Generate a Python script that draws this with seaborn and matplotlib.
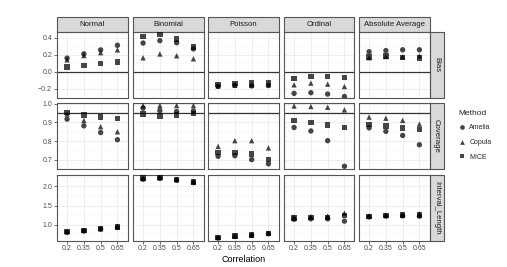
import numpy as np
import pandas as pd
import matplotlib
matplotlib.use("Agg")
import matplotlib.pyplot as plt
import seaborn as sns
from matplotlib.patches import Rectangle
from matplotlib.lines import Line2D
from matplotlib.ticker import MultipleLocator

# ---------------- data ----------------
correlations = ["0.2", "0.35", "0.5", "0.65"]
distributions = ["Normal", "Binomial", "Poisson", "Ordinal", "Absolute Average"]
measures = ["Bias", "Coverage", "Interval_Length"]
methods = ["Amelia", "Copula", "MICE"]

# each list: one row of 4 values (by correlation) per distribution
bias_amelia = [[0.16, 0.21, 0.256, 0.31], [0.336, 0.364, 0.34, 0.268],
               [-0.17, -0.16, -0.165, -0.16], [-0.252, -0.244, -0.26, -0.288],
               [0.235, 0.248, 0.257, 0.257]]
bias_copula = [[0.14, 0.19, 0.224, 0.256], [0.164, 0.208, 0.188, 0.152],
               [-0.165, -0.155, -0.155, -0.15], [-0.152, -0.132, -0.144, -0.172],
               [0.165, 0.178, 0.175, 0.185]]
bias_mice = [[0.056, 0.076, 0.10, 0.116], [0.41, 0.44, 0.384, 0.288],
             [-0.145, -0.135, -0.13, -0.125], [-0.08, -0.056, -0.056, -0.064],
             [0.175, 0.185, 0.168, 0.16]]

cov_amelia = [[0.918, 0.882, 0.846, 0.807], [0.977, 0.964, 0.959, 0.962],
              [0.718, 0.721, 0.70, 0.677], [0.873, 0.854, 0.802, 0.664],
              [0.871, 0.852, 0.83, 0.78]]
cov_copula = [[0.946, 0.911, 0.877, 0.85], [0.991, 0.991, 0.991, 0.991],
              [0.771, 0.802, 0.802, 0.763], [0.989, 0.986, 0.982, 0.968],
              [0.929, 0.923, 0.911, 0.891]]
cov_mice = [[0.954, 0.941, 0.93, 0.921], [0.945, 0.934, 0.941, 0.95],
            [0.739, 0.739, 0.73, 0.70], [0.911, 0.90, 0.887, 0.873],
            [0.889, 0.882, 0.87, 0.861]]

len_amelia = [[0.80, 0.835, 0.88, 0.93], [2.19, 2.21, 2.16, 2.10],
              [0.65, 0.69, 0.72, 0.76], [1.14, 1.15, 1.15, 1.09],
              [1.20, 1.22, 1.23, 1.22]]
len_copula = [[0.81, 0.845, 0.89, 0.945], [2.21, 2.23, 2.18, 2.12],
              [0.66, 0.70, 0.73, 0.78], [1.20, 1.21, 1.22, 1.30],
              [1.23, 1.25, 1.26, 1.28]]
len_mice = [[0.82, 0.85, 0.89, 0.94], [2.22, 2.24, 2.18, 2.12],
            [0.66, 0.70, 0.73, 0.77], [1.17, 1.18, 1.18, 1.24],
            [1.22, 1.24, 1.25, 1.25]]

ref_lines = {"Bias": 0.0, "Coverage": 0.95}

# ---------------- long table ----------------
source = {
    "Bias": {"Amelia": bias_amelia, "Copula": bias_copula, "MICE": bias_mice},
    "Coverage": {"Amelia": cov_amelia, "Copula": cov_copula, "MICE": cov_mice},
    "Interval_Length": {"Amelia": len_amelia, "Copula": len_copula, "MICE": len_mice},
}
rows = []
for meas in measures:
    for meth in methods:
        for d, dist in enumerate(distributions):
            for c, corr in enumerate(correlations):
                rows.append(dict(Measure=meas, Method=meth, Distribution=dist,
                                 Correlation=corr, Value=source[meas][meth][d][c]))
df = pd.DataFrame(rows)

# ---------------- style ----------------
sns.set_theme(style="white")
plt.rcParams["font.family"] = ["Liberation Sans", "DejaVu Sans"]

W, H = 507, 267
fig = plt.figure(figsize=(W / 100, H / 100), dpi=100)
fig.patch.set_facecolor("white")

col_x = [57, 133, 208, 284, 359]
pw = 70.5
row_y = [32, 103, 175]
ph = 65.5

ylims = {"Bias": (-0.30, 0.465), "Coverage": (0.652, 1.005), "Interval_Length": (0.583, 2.30)}
ymaj = {"Bias": 0.2, "Coverage": 0.1, "Interval_Length": 0.5}

markers = {"Amelia": "o", "Copula": "^", "MICE": "s"}
edge = "#555555"
strip_fc = "#D9D9D9"

for r, meas in enumerate(measures):
    for c, dist in enumerate(distributions):
        ax = fig.add_axes([col_x[c] / W, 1 - (row_y[r] + ph) / H, pw / W, ph / H])
        sub = df[(df.Measure == meas) & (df.Distribution == dist)]
        ax.set_xlim(-0.6, 3.6)
        ax.set_ylim(*ylims[meas])
        ax.yaxis.set_major_locator(MultipleLocator(ymaj[meas]))
        ax.yaxis.set_minor_locator(MultipleLocator(ymaj[meas] / 2))
        ax.set_xticks(range(4))
        ax.grid(True, which="major", color="#EBEBEB", lw=0.6)
        ax.grid(True, which="minor", axis="y", color="#F2F2F2", lw=0.35)
        ax.set_axisbelow(True)
        if meas in ref_lines:
            ax.axhline(ref_lines[meas], color="#333333", lw=0.9, zorder=1.5)
        sns.scatterplot(data=sub, x="Correlation", y="Value", style="Method",
                        markers=markers, style_order=methods, color="black",
                        alpha=0.72, s=15, linewidth=0, legend=False, ax=ax, zorder=3)
        ax.set_xlim(-0.6, 3.6)
        ax.set_ylim(*ylims[meas])
        ax.set_xlabel("")
        ax.set_ylabel("")
        for s in ax.spines.values():
            s.set_color(edge)
            s.set_linewidth(0.8)
        ax.tick_params(axis="both", which="major", length=2, width=0.5, color="#333333",
                       labelsize=5.0, labelcolor="#4D4D4D", pad=1.5)
        ax.tick_params(axis="both", which="minor", length=0)
        if r == 2:
            ax.set_xticklabels(correlations)
        else:
            ax.tick_params(axis="x", labelbottom=False, length=0)
        if c != 0:
            ax.tick_params(axis="y", labelleft=False, length=0)
        else:
            ax.tick_params(axis="y", left=True)
        if r == 2:
            ax.tick_params(axis="x", bottom=True)
        # top strip
        if r == 0:
            sh = 15 / ph
            ax.add_patch(Rectangle((0, 1), 1, sh, transform=ax.transAxes, clip_on=False,
                                   facecolor=strip_fc, edgecolor=edge, lw=0.8))
            ax.text(0.5, 1 + sh / 2, dist, transform=ax.transAxes, ha="center", va="center",
                    fontsize=5.6, color="#1A1A1A")
        # right strip
        if c == 4:
            sw = 14 / pw
            ax.add_patch(Rectangle((1, 0), sw, 1, transform=ax.transAxes, clip_on=False,
                                   facecolor=strip_fc, edgecolor=edge, lw=0.8))
            ax.text(1 + sw / 2, 0.5, meas, transform=ax.transAxes, ha="center", va="center",
                    rotation=270, fontsize=5.6, color="#1A1A1A")

fig.text(243.5 / W, 1 - 259 / H, "Correlation", ha="center", va="center",
         fontsize=6.5, color="black")

handles = [Line2D([], [], marker=markers[m], color="black", alpha=0.72, linestyle="",
                  markersize=3.4, markeredgewidth=0) for m in methods]
leg = fig.legend(handles, methods, title="Method", loc="upper left",
                 bbox_to_anchor=(456 / W, 1 - 107 / H), frameon=False,
                 fontsize=5.0, title_fontsize=6.0, handletextpad=0.5,
                 labelspacing=1.1, handlelength=1.0, borderaxespad=0)
leg._legend_box.align = "left"

fig.savefig("out.png", dpi=100, facecolor="white")
